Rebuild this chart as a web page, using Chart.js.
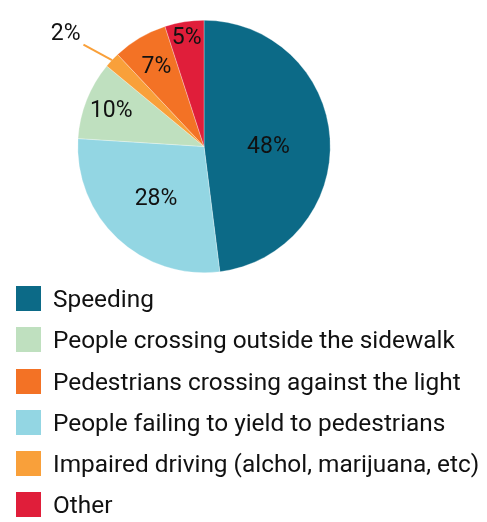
<!DOCTYPE html>
<html>
<head>
<meta charset="utf-8">
<script src="https://cdn.jsdelivr.net/npm/chart.js@4.4.1/dist/chart.umd.min.js"></script>
<style>
  body { margin: 0; background: #fff; font-family: Roboto, sans-serif; }
  #wrap { position: absolute; left: 0; top: 0; width: 487px; height: 293px; }
  #legend { position: absolute; left: 16px; top: 286px; margin: 0; padding: 0; list-style: none; }
  #legend li { display: flex; align-items: center; height: 25px; margin-bottom: 16.3px; font-size: 24.4px; color: #111; white-space: nowrap; }
  #legend span.box { width: 25px; height: 25px; margin-right: 12px; flex: none; }
</style>
</head>
<body>
<div id="wrap"><canvas id="pie"></canvas></div>
<ul id="legend"></ul>
<script>
// slices, clockwise from 12 o'clock
const categories = [
  'Speeding',
  'People failing to yield to pedestrians',
  'People crossing outside the sidewalk',
  'Impaired driving (alchol, marijuana, etc)',
  'Pedestrians crossing against the light',
  'Other'
];
const shares = [48, 28, 10, 2, 7, 5];
const colors = ['#0c6a87', '#93d6e3', '#bfe0bf', '#f9a03a', '#f37225', '#e01e3a'];
// order the legend lists them in
const legendOrder = [0, 2, 4, 1, 3, 5];

// draws the percent text on each slice; small ones get a leader line
const pctLabels = {
  id: 'pctLabels',
  afterDatasetsDraw(chart, args, opts) {
    const ctx = chart.ctx;
    const meta = chart.getDatasetMeta(0);
    const deg = Math.PI / 180;
    ctx.save();
    ctx.font = opts.font;
    ctx.fillStyle = opts.color;
    ctx.textAlign = 'center';
    ctx.textBaseline = 'middle';
    meta.data.forEach((arc, i) => {
      const { x, y, startAngle, endAngle, outerRadius } = arc.getProps(['x', 'y', 'startAngle', 'endAngle', 'outerRadius'], true);
      const mid = (startAngle + endAngle) / 2;
      const text = shares[i] + '%';
      const f = opts.radius[i];
      if (f) {
        const a = mid + (opts.shift[i] || 0) * deg;
        ctx.fillText(text, x + Math.cos(a) * outerRadius * f, y + Math.sin(a) * outerRadius * f + 1.5);
        return;
      }
      // outside label
      const a2 = mid - 3 * deg;
      ctx.strokeStyle = colors[i];
      ctx.lineWidth = 2;
      ctx.beginPath();
      ctx.moveTo(x + Math.cos(mid) * outerRadius, y + Math.sin(mid) * outerRadius);
      ctx.lineTo(x + Math.cos(a2) * outerRadius * 1.25, y + Math.sin(a2) * outerRadius * 1.25);
      ctx.stroke();
      const a3 = mid - 4.2 * deg;
      ctx.fillText(text, x + Math.cos(a3) * outerRadius * 1.41, y + Math.sin(a3) * outerRadius * 1.41);
    });
    ctx.restore();
  }
};

const chart = new Chart(document.getElementById('pie'), {
  type: 'pie',
  data: {
    labels: categories,
    datasets: [{
      data: shares,
      backgroundColor: colors,
      borderColor: 'rgba(255,255,255,0.6)',
      borderWidth: 0.5
    }]
  },
  options: {
    responsive: true,
    maintainAspectRatio: false,
    animation: false,
    layout: { padding: { top: 20, bottom: 20, left: 0, right: 79 } },
    plugins: {
      legend: { display: false },
      tooltip: { enabled: false },
      pctLabels: {
        font: '23px Roboto',
        color: '#111',
        radius: [0.51, 0.555, 0.79, null, 0.74, 0.88],
        shift: [3, 0, 0, 0, 0, 0]
      }
    }
  },
  plugins: [pctLabels]
});

// legend built from the chart's own labels and colours
const ul = document.getElementById('legend');
legendOrder.forEach(i => {
  const li = document.createElement('li');
  const box = document.createElement('span');
  box.className = 'box';
  box.style.background = chart.data.datasets[0].backgroundColor[i];
  li.appendChild(box);
  li.appendChild(document.createTextNode(chart.data.labels[i]));
  ul.appendChild(li);
});
</script>
</body>
</html>
